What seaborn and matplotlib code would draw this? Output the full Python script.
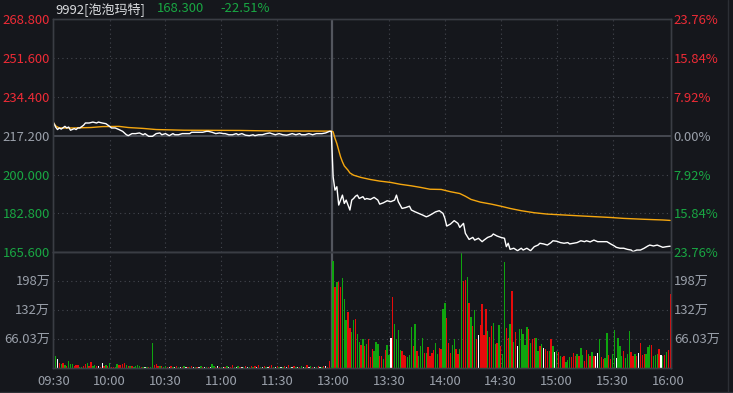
import matplotlib
matplotlib.use("Agg")
import matplotlib.pyplot as plt
from matplotlib.lines import Line2D
import pandas as pd
import seaborn as sns

# ---------------- data ----------------
prev_close = 217.2
title_code = "9992[泡泡玛特]"
last_price = "168.300"
change_pct = "-22.51%"

time_ticks = [0, 30, 60, 90, 120, 150, 180, 210, 240, 270, 300, 330]
time_labels = ["09:30", "10:00", "10:30", "11:00", "11:30", "13:00",
               "13:30", "14:00", "14:30", "15:00", "15:30", "16:00"]

price_ticks = [165.6, 182.8, 200.0, 217.2, 234.4, 251.6, 268.8]
price_labels = ["165.600", "182.800", "200.000", "217.200", "234.400", "251.600", "268.800"]
pct_labels = ["23.76%", "15.84%", "7.92%", "0.00%", "7.92%", "15.84%", "23.76%"]
vol_ticks = [66.03, 132.06, 198.09]
vol_labels = ["66.03万", "132万", "198万"]
vol_max = 264.12

# price line (minute index, price)
price_t = [0, 1, 2, 3, 4, 6, 7, 8, 9, 11, 12, 13, 14, 16, 17, 19, 21, 23, 24, 26,
           28, 30, 31, 33, 35, 37, 39, 40, 42, 44, 46, 48, 49, 51, 53, 55, 57, 58, 60, 62,
           64, 65, 67, 69, 71, 73, 74, 76, 78, 80, 82, 83, 85, 87, 89, 91, 92, 94, 96, 98,
           99, 101, 103, 105, 107, 108, 110, 112, 114, 116, 117, 119, 121, 123, 125, 126,
           128, 130, 132, 133, 135, 137, 139, 141, 142, 144, 146, 148, 149,
           150, 151, 152, 153, 154, 155, 156, 157, 158, 159, 160, 161, 162, 163, 164, 166,
           167, 168, 170, 172, 174, 175, 177, 179, 181, 183, 184, 185, 187, 189, 191, 192,
           194, 196, 198, 200, 201, 203, 205, 207, 209, 210, 211, 213, 215, 217, 218, 220,
           221, 223, 225, 226, 228, 230, 231, 233, 235, 236, 238, 240, 242, 243, 244, 245,
           247, 249, 251, 252, 254, 256, 258, 260, 261, 263, 265, 267, 268, 270, 272, 274,
           276, 277, 279, 281, 283, 285, 286, 288, 290, 292, 294, 295, 297, 299, 301, 302,
           304, 306, 308, 310, 311, 313, 315, 317, 319, 320, 322, 324, 326, 327, 329, 331]
price_v = [222.8, 221.0, 219.9, 220.6, 220.1, 221.3, 220.6, 221.0, 219.6, 220.3,
           219.9, 220.6, 220.6, 221.8, 222.8, 222.8, 223.2, 222.8, 223.2, 222.8,
           222.5, 221.3, 220.6, 220.6, 219.9, 219.1, 217.6, 217.2, 218.1, 218.1,
           218.4, 217.6, 218.1, 216.9, 216.9, 218.1, 218.4, 217.6, 218.1, 217.2,
           218.1, 217.6, 217.6, 218.1, 218.1, 218.1, 218.7, 218.7, 218.7, 218.7,
           219.1, 219.1, 218.7, 218.1, 218.4, 218.1, 218.1, 217.6, 217.6, 218.1,
           217.6, 218.1, 217.4, 217.2, 217.6, 217.2, 217.6, 217.6, 218.1, 218.4,
           218.1, 217.6, 218.1, 217.6, 217.4, 217.6, 218.1, 217.6, 218.1, 217.6,
           217.6, 218.1, 217.6, 218.1, 218.1, 218.1, 218.4, 219.1, 219.1,
           199.0, 193.1, 194.6, 186.5, 188.7, 190.9, 187.2, 188.7, 186.5, 184.3,
           188.7, 189.4, 190.4, 190.9, 189.4, 190.2, 189.0, 189.4, 189.0, 189.9,
           188.7, 186.9, 187.5, 188.4, 188.0, 188.7, 190.9, 188.0, 185.0, 185.4,
           186.0, 184.3, 183.5, 182.8, 182.1, 181.3, 181.6, 182.5, 183.5, 184.0,
           182.8, 180.6, 177.2, 178.1, 179.6, 178.4, 176.6, 178.4, 174.0, 171.3,
           172.2, 171.0, 171.8, 170.3, 171.0, 172.2, 172.8, 173.7, 172.8, 172.2,
           171.8, 168.1, 169.6, 166.9, 167.4, 166.3, 167.4, 166.6, 167.4, 166.3,
           168.1, 168.8, 169.6, 169.3, 168.8, 169.9, 170.7, 170.5, 169.9, 169.6,
           169.9, 169.3, 169.6, 169.9, 170.7, 170.3, 170.7, 170.2, 171.0, 170.3,
           170.3, 170.3, 170.3, 169.3, 168.4, 167.8, 167.4, 167.4, 166.9, 166.6,
           165.9, 166.6, 166.6, 167.4, 168.4, 168.8, 168.4, 168.8, 168.1, 167.8,
           168.1, 168.3]

# average price line
avg_t = [0, 1, 3, 10, 20, 26, 35, 40, 48, 55, 70, 100, 115, 149,
         150, 151, 152, 153, 154, 155, 156, 158, 159, 161, 165, 170, 175, 181, 186,
         192, 197, 202, 208, 213, 218, 221, 224, 229, 235, 240, 245, 251, 258, 265,
         274, 285, 299, 306, 317, 327, 331]
avg_v = [222.8, 221.5, 220.6, 220.6, 220.8, 221.2, 221.3, 220.8, 220.4, 219.9,
         219.6, 219.5, 219.3, 219.2,
         218.9, 216.0, 213.7, 210.7, 207.8, 205.6, 203.8, 201.9, 200.7, 199.7,
         198.7, 197.8, 197.1, 196.5, 195.7, 195.0, 194.3, 193.5, 193.4, 192.4,
         191.6, 190.4, 189.0, 187.8, 186.9, 186.0, 185.0, 184.0, 183.1, 182.5,
         182.1, 181.6, 181.0, 180.6, 180.2, 179.9, 179.7]

# per-minute volume (万) and bar colour code (R up, G down, W flat)
vol_am = [73, 27, 20, 11, 9, 11, 7, 5, 16, 9,
          9, 5, 7, 7, 2, 2, 5, 9, 11, 5,
          14, 5, 7, 5, 5, 2, 11, 5, 7, 5,
          11, 2, 2, 2, 9, 7, 7, 9, 11, 7,
          5, 5, 5, 2, 5, 7, 5, 2, 2, 2,
          3, 2, 3, 57, 7, 9, 5, 5, 5, 2, 5,
          3, 2, 5, 2, 3, 5, 2, 2, 3, 5, 2, 3, 2, 5, 3, 2, 2, 3, 5, 2,
          3, 2, 2, 3, 9, 5, 3, 5, 2, 3, 2, 2, 5, 3, 2, 7, 3, 2, 5, 2,
          3, 2, 5, 2, 3, 5,
          3, 5, 2, 7, 3, 2, 5, 3, 2, 5, 7, 3, 2, 5, 3, 2, 3, 5, 2, 7,
          3, 2, 5, 3, 2, 3, 5, 2, 3, 7, 2, 5, 3, 2, 3, 5, 2, 3, 5,
          5, 2, 15, 3]
vol_am_c = ("RGWRGRGRGG" "GRRRGGRRGR" "RGGRWRWRGR" "GRRGGRRRRG" "RGRGGGGRGW" "GRGGRRRGRGG"
            "RWRGWRGWRG" "WRGRWGRWGR" "WGRWGGRWRG" "WRGWRRGWGR" "WGRWGR"
            "GRWRGWRGWR" "RGWRGWGRWR" "GWRGWRGWGR" "WGRWGRWGR" "WRRG")
vol_pm = [244, 184, 197, 197, 184, 206, 157, 109, 127, 91,
          82, 109, 112, 77, 59, 52, 66, 50, 55, 66,
          25, 43, 39, 59, 55, 27, 27, 20, 41, 52,
          30, 68, 162, 100, 66, 87, 41, 39, 30, 27,
          25, 30, 93, 50, 100, 39, 27, 50, 68, 34,
          34, 48, 27, 34, 41, 57, 32, 46, 43,
          134, 148, 114, 57, 34, 52, 66, 43, 32, 43,
          262, 198, 200, 207, 148, 116, 96, 132, 66, 75,
          98, 146, 75, 134, 84, 71, 96, 102, 55, 57,
          98, 50, 32, 241, 91, 68, 100, 175, 59, 82,
          50, 89, 89, 77, 52, 93, 89, 57, 66, 68,
          68, 39, 50, 55, 46, 43, 39, 39, 66, 50,
          36, 39,
          36, 27, 25, 27, 14, 18, 25, 25, 34, 27,
          32, 27, 46, 30, 16, 41, 32, 27, 36, 27,
          27, 34, 66, 25, 20, 23, 80, 30, 20, 32,
          87, 23, 68, 50, 27, 39, 23, 32, 84, 36,
          27, 32, 27, 34, 57, 30, 32, 32, 48, 52,
          52, 27, 30, 32, 43, 30, 27, 30, 36, 41,
          169]
vol_pm_c = ("GRGRRGGGRR" "GGRGGRGRGR" "RRGGGRRGRG" "GWRGGGGRRR" "GGGRGRGGGR" "GRRRRGGRR"
            "GGRRRGGRRG" "GRRGRGRGRW" "RRRRGRRGGR" "GRGGRRGRGR" "WGGGGGRGRR" "GGRGWRRGRG" "WG"
            "RGRRGGGRRR" "GRGGRRGRGR" "WWGRRGGRRG" "GWGGGRGGGR" "RGRWRRRGGG" "RGGGRWGRGR" "R")

# ---------------- style ----------------
BG = "#15171c"
GRID = "#44474f"
EDGE = "#3a3d44"
RED = "#ee2b36"
GREEN = "#19a743"
GRAY = "#9aa0aa"
BAR_COLORS = {"R": "#e60b0b", "G": "#0fa50f", "W": "#ffffff"}

sns.set_theme(style="dark", rc={"axes.facecolor": BG, "figure.facecolor": BG,
                                "axes.edgecolor": EDGE, "text.color": GRAY,
                                "xtick.color": GRAY, "ytick.color": GRAY})
plt.rcParams["font.family"] = ["Noto Sans CJK SC", "DejaVu Sans"]
FS = 9.4

W, H = 733, 393
fig = plt.figure(figsize=(W / 100, H / 100), dpi=100, facecolor=BG)
L, R_ = 53, 671
axp = fig.add_axes([L / W, 1 - 252.3 / H, (R_ - L) / W, 233.3 / H])
axv = fig.add_axes([L / W, 1 - 368 / H, (R_ - L) / W, 115.7 / H])

XL = (-0.4, 331.4)

# ---- price panel ----
for y in price_ticks[1:-1]:
    if abs(y - prev_close) > 1e-6:
        axp.axhline(y, color=GRID, lw=0.8, ls=(0, (1, 3)), zorder=1)
axp.axhline(prev_close, color="#4a4d55", lw=1.3, zorder=1)
for t in time_ticks[1:-1]:
    if t != 150:
        axp.axvline(t, color=GRID, lw=0.8, ls=(0, (1, 3)), zorder=1)
        axv.axvline(t, color=GRID, lw=0.8, ls=(0, (1, 3)), zorder=1)
axp.axvline(149.6, color="#53565e", lw=1.6, zorder=1)
axv.axvline(149.6, color="#53565e", lw=1.6, zorder=1)

sns.lineplot(x=avg_t, y=avg_v, ax=axp, color="#f5a70f", lw=1.0, zorder=3)
sns.lineplot(x=price_t, y=price_v, ax=axp, color="white", lw=1.0, zorder=4)

axp.set_xlim(*XL)
axp.set_ylim(price_ticks[0], price_ticks[-1])
axp.set_xticks([])
axp.set_yticks(price_ticks)
axp.set_yticklabels(price_labels)
axp.tick_params(axis="y", length=0, pad=2.0, labelsize=FS)
axp.set_xlabel("")
axp.set_ylabel("")

axp2 = axp.twinx()
axp2.set_ylim(price_ticks[0], price_ticks[-1])
axp2.set_yticks(price_ticks)
axp2.set_yticklabels(pct_labels)
axp2.tick_params(axis="y", length=0, pad=2.0, labelsize=FS)

for axx in (axp, axp2):
    for lab, val in zip(axx.get_yticklabels(), price_ticks):
        if val > prev_close + 1e-6:
            lab.set_color(RED)
        elif val < prev_close - 1e-6:
            lab.set_color(GREEN)
        else:
            lab.set_color(GRAY)
    for s in axx.spines.values():
        s.set_color(EDGE)
        s.set_linewidth(1.0)

# ---- volume panel ----
for v in vol_ticks:
    axv.axhline(v, color=GRID, lw=0.8, ls=(0, (1, 3)), zorder=1)

vol_t = list(range(len(vol_am))) + list(range(150, 150 + len(vol_pm)))
df = pd.DataFrame({"t": vol_t, "v": vol_am + vol_pm,
                   "c": list(vol_am_c) + list(vol_pm_c)})
sns.barplot(data=df, x="t", y="v", hue="c", palette=BAR_COLORS, native_scale=True,
            dodge=False, width=0.72, legend=False, ax=axv, saturation=1,
            errorbar=None, linewidth=0, antialiased=False, zorder=3)

axv.set_xlim(*XL)
axv.set_ylim(0, vol_max)
axv.set_yticks(vol_ticks)
axv.set_yticklabels(vol_labels)
axv.set_xticks(time_ticks)
axv.set_xticklabels(time_labels)
axv.tick_params(axis="y", length=0, pad=2.0, labelsize=FS, colors=GRAY)
axv.tick_params(axis="x", length=0, pad=5, labelsize=FS, colors=GRAY)
axv.set_xlabel("")
axv.set_ylabel("")

axv2 = axv.twinx()
axv2.set_ylim(0, vol_max)
axv2.set_yticks(vol_ticks)
axv2.set_yticklabels(vol_labels)
axv2.tick_params(axis="y", length=0, pad=2.0, labelsize=FS, colors=GRAY)
for axx in (axv, axv2):
    for s in axx.spines.values():
        s.set_color(EDGE)
        s.set_linewidth(1.0)

# ---- title texts ----
ty = 1 - 9 / H
fig.text(55 / W, ty, title_code, color="#dadcdf", fontsize=FS, va="center", ha="left")
fig.text(157 / W, ty, last_price, color=GREEN, fontsize=FS, va="center", ha="left")
fig.text(220 / W, ty, change_pct, color=GREEN, fontsize=FS, va="center", ha="left")

# frame lines at the figure edges
fig.add_artist(Line2D([0, 1], [1 - 391.5 / H] * 2, color="#2c2f35", lw=1))
fig.add_artist(Line2D([728 / W] * 2, [0, 1], color="#2c2f35", lw=1))

fig.savefig("out.png", dpi=100, facecolor=BG)
